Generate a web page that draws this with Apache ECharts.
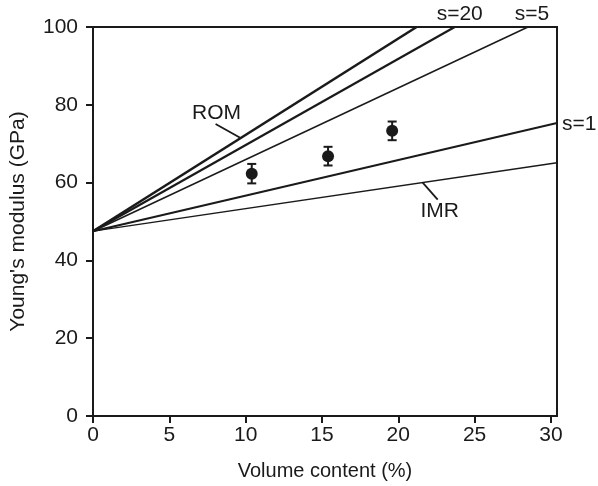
<!DOCTYPE html>
<html>
<head>
<meta charset="utf-8">
<script src="https://cdn.jsdelivr.net/npm/echarts@6/dist/echarts.min.js"></script>
<style>
  html, body { margin: 0; padding: 0; background: #fff; }
  #chart { width: 598px; height: 486px; }
</style>
</head>
<body>
<div id="chart"></div>
<script>
// measured points
const volume = [10.4, 15.4, 19.6]
const modulus = [62.3, 66.8, 73.3]
const modulusErr = [2.5, 2.4, 2.4]

// model lines, all start from the matrix value at 0 %
const models = ['ROM', 's=20', 's=5', 's=1', 'IMR']
const startModulus = 47.5
const endVolume = [21.2, 23.7, 28.5, 30.4, 30.4]
const endModulus = [100, 100, 100, 75.3, 65.1]

const xTicks = [0, 5, 10, 15, 20, 25, 30]
const yTicks = [0, 20, 40, 60, 80, 100]

const lineWidths = [2.6, 2.2, 1.5, 2, 1.3]
const ink = '#1a1a1a'
const font = "'Liberation Sans', Arial, sans-serif"

const chart = echarts.init(document.getElementById('chart'))

const lineSeries = models.map((name, i) => ({
  name: name,
  type: 'line',
  symbol: 'none',
  silent: true,
  lineStyle: { color: ink, width: lineWidths[i] },
  data: [[0, startModulus], [endVolume[i], endModulus[i]]]
}))

let option = {
  animation: false,
  grid: {
    left: 92,
    right: 41,
    top: 27,
    bottom: 70,
    show: true,
    borderColor: ink,
    borderWidth: 2
  },
  xAxis: {
    type: 'value',
    min: 0,
    max: 30.4,
    interval: 5,
    name: 'Volume content (%)',
    nameLocation: 'middle',
    nameGap: 45,
    nameTextStyle: { color: ink, fontSize: 20, fontFamily: font },
    axisLine: { lineStyle: { color: ink, width: 2 } },
    axisTick: { length: 7, customValues: xTicks, lineStyle: { color: ink, width: 2 } },
    axisLabel: { customValues: xTicks, color: ink, fontSize: 21, fontFamily: font, margin: 9 },
    splitLine: { show: false }
  },
  yAxis: {
    type: 'value',
    min: 0,
    max: 100,
    interval: 20,
    name: "Young's modulus (GPa)",
    nameLocation: 'middle',
    nameGap: 64,
    nameTextStyle: { color: ink, fontSize: 21, fontFamily: font },
    axisLine: { lineStyle: { color: ink, width: 2 } },
    axisTick: { length: 7, lineStyle: { color: ink, width: 2 } },
    axisLabel: { customValues: yTicks, color: ink, fontSize: 21, fontFamily: font, margin: 15 },
    splitLine: { show: false }
  },
  series: [
    ...lineSeries,
    {
      name: 'error',
      type: 'custom',
      silent: true,
      data: volume.map((v, i) => [v, modulus[i] - modulusErr[i], modulus[i] + modulusErr[i]]),
      renderItem: (params, api) => {
        const lo = api.coord([api.value(0), api.value(1)])
        const hi = api.coord([api.value(0), api.value(2)])
        const cap = 4.5
        const st = { stroke: ink, lineWidth: 2 }
        return {
          type: 'group',
          children: [
            { type: 'line', shape: { x1: lo[0], y1: lo[1], x2: hi[0], y2: hi[1] }, style: st },
            { type: 'line', shape: { x1: lo[0] - cap, y1: lo[1], x2: lo[0] + cap, y2: lo[1] }, style: st },
            { type: 'line', shape: { x1: hi[0] - cap, y1: hi[1], x2: hi[0] + cap, y2: hi[1] }, style: st }
          ]
        }
      },
      z: 3
    },
    {
      name: 'measured',
      type: 'scatter',
      symbol: 'circle',
      symbolSize: 12,
      itemStyle: { color: ink, opacity: 1 },
      data: volume.map((v, i) => [v, modulus[i]]),
      z: 4
    }
  ]
}
chart.setOption(option)

// annotations: labels + leader lines placed from data coordinates
const onLine = (i, x) => startModulus + (endModulus[i] - startModulus) / endVolume[i] * x
const px = (x, y) => chart.convertToPixel({ gridIndex: 0 }, [x, y])
const txt = (text, p, align, vAlign) => ({
  type: 'text',
  x: p[0],
  y: p[1],
  style: { text: text, fill: ink, font: '21px ' + font, align: align, verticalAlign: vAlign }
})
const leader = (a, dx, dy) => ({
  type: 'line',
  shape: { x1: a[0], y1: a[1], x2: a[0] + dx, y2: a[1] + dy },
  style: { stroke: ink, lineWidth: 1.8 }
})

const romAt = px(9.67, onLine(0, 9.67))
const imrAt = px(21.6, onLine(4, 21.6))
const s20At = px(endVolume[1], 100)
const s5At = px(endVolume[2], 100)
const s1At = px(endVolume[3], endModulus[3])

chart.setOption({
  graphic: [
    leader(romAt, -25, -14),
    txt('ROM', [romAt[0] - 24, romAt[1] - 25], 'center', 'middle'),
    leader(imrAt, 15, 17),
    txt('IMR', [imrAt[0] + 17, imrAt[1] + 29], 'center', 'middle'),
    txt('s=20', [s20At[0] + 5, s20At[1] - 2], 'center', 'bottom'),
    txt('s=5', [s5At[0] + 4, s5At[1] - 2], 'center', 'bottom'),
    txt('s=1', [s1At[0] + 5, s1At[1] + 1], 'left', 'middle')
  ]
})
</script>
</body>
</html>
